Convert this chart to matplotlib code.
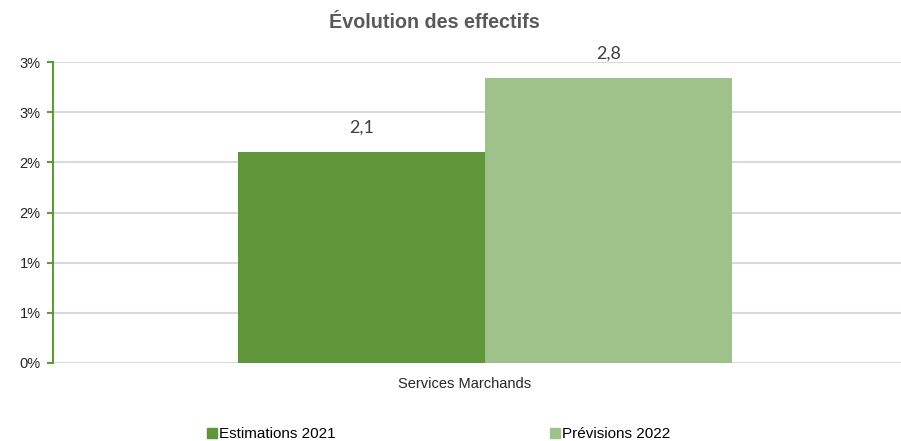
import matplotlib
matplotlib.use('agg')
from matplotlib import pyplot as plt
from matplotlib.patches import Patch
from matplotlib.ticker import FuncFormatter, MultipleLocator
import matplotlib.transforms as mtrans
import math

plt.rcParams['font.family'] = ['Liberation Sans', 'DejaVu Sans']

# données
categories = ['Services Marchands']
series_names = ['Estimations 2021', 'Prévisions 2022']
values_2021 = [2.1]
values_2022 = [2.84]
colors = ['#5f963a', '#9fc28b']

fig = plt.figure(figsize=(9.01, 4.41), dpi=100)
ax = fig.add_axes([53 / 901, 1 - 363 / 441, 864 / 901, 301 / 441])

width = 0.286
x = [0]
b1 = ax.bar([i - width / 2 for i in x], values_2021, width, color=colors[0])
b2 = ax.bar([i + width / 2 for i in x], values_2022, width, color=colors[1])

# étiquettes de données
for bars, vals in [(b1, values_2021), (b2, values_2022)]:
    for rect, v in zip(bars, vals):
        ax.annotate(f'{v:.1f}'.replace('.', ','),
                    (rect.get_x() + rect.get_width() / 2, rect.get_height()),
                    xytext=(0, 12), textcoords='offset points', ha='center', va='bottom',
                    fontsize=13, color='#404040', family=['Lato', 'DejaVu Sans'])


# arrondi à la Excel (0,5 -> 1)
def pct(v, p):
    return f'{math.floor(v + 0.5 + 1e-9):d}%'


ax.set_xlim(-0.5, 0.5)
ax.set_ylim(0, 3.0)
ax.yaxis.set_major_locator(MultipleLocator(0.5))
ax.yaxis.set_major_formatter(FuncFormatter(pct))
ax.set_xticks(x)
ax.set_xticklabels(categories)

ax.grid(axis='y', color='#d9d9d9', linewidth=1.5)
ax.set_axisbelow(True)
for s in ['top', 'right', 'bottom']:
    ax.spines[s].set_visible(False)
ax.spines['left'].set_color('#5f9a3a')
ax.spines['left'].set_linewidth(1.5)
ax.tick_params(axis='y', colors='#5f9a3a', length=4, width=1.5, labelcolor='#262626',
               labelsize=10.5, pad=5)
ax.tick_params(axis='x', length=0, labelsize=10.5, labelcolor='#262626', pad=10)
shift = mtrans.ScaledTranslation(-20 / 100, 0, fig.dpi_scale_trans)
for lbl in ax.get_xticklabels():
    lbl.set_transform(lbl.get_transform() + shift)

fig.text(434 / 901, 1 - 23 / 441, 'Évolution des effectifs', ha='center', va='center',
         fontsize=14.2, fontweight='bold', color='#595959')

handles = [Patch(color=c) for c in colors]
fig.legend(handles, series_names, loc='center left', bbox_to_anchor=(207 / 901, 1 - 434 / 441),
           ncol=2, frameon=False, fontsize=11, handlelength=0.65, handleheight=0.65,
           handletextpad=0.15, columnspacing=14.0, borderaxespad=0, borderpad=0)

fig.savefig('out.png', dpi=100)
